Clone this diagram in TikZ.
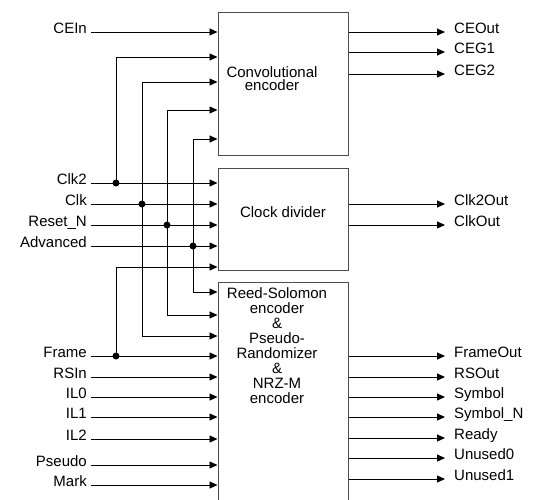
\documentclass[tikz,border=0pt]{standalone}
\usepackage{fontspec}
\setmainfont{Liberation Sans}
\usetikzlibrary{arrows.meta}
\begin{document}
\begin{tikzpicture}[x=1pt,y=-1pt,
  blk/.style={draw=black!70, line width=1pt, minimum width=130pt, inner sep=0pt},
  wire/.style={line width=0.9pt, black},
  arr/.style={wire, -{Triangle[length=8pt,width=7pt]}},
  jdot/.style={circle, fill=black, inner sep=0pt, minimum size=7pt},
  lin/.style={anchor=base east, inner sep=0pt, font=\fontsize{15}{16}\selectfont},
  lout/.style={anchor=base west, inner sep=0pt, font=\fontsize{15}{16}\selectfont},
  btxt/.style={align=center, inner sep=0pt}
]
\useasboundingbox (0,0) rectangle (534,499);
\clip (0,0) rectangle (534,499);

% blocks
\node[blk, minimum height=143pt] (conv) at (283,83.5) {};
\node[blk, minimum height=102pt] (clkd) at (283,219) {};
\node[blk, minimum height=238pt] (rs) at (283,401) {};

\node[btxt, anchor=north, font=\fontsize{15}{13}\selectfont] (convt) at (272,66.5) {Convolutional\\encoder};
\node[btxt, anchor=base, font=\fontsize{15}{16}\selectfont] (clkt) at (283,217) {Clock divider};
\node[btxt, anchor=north, font=\fontsize{15}{15}\selectfont] (rst) at (277,287.5) {Reed-Solomon\\encoder\\\&\\Pseudo-\\Randomizer\\\&\\NRZ-M\\encoder};

% plain inputs
\foreach \nm/\txt/\y/\bx in {cein/CEIn/32/conv, clktwo/Clk2/183/clkd, clk/Clk/204/clkd, rstn/Reset\_N/225/clkd, adv/Advanced/246/clkd,
  frame/Frame/356/rs, rsin/RSIn/377/rs, ilz/IL0/397/rs, ilo/IL1/417/rs, ilt/IL2/439/rs, pse/Pseudo/465/rs, mark/Mark/485/rs}{
  \node[lin] (l\nm) at (87,\y+1.5) {\txt};
  \coordinate (s\nm) at (91,\y);
  \draw[arr] (s\nm) -- (s\nm -| \bx.west);
}

% junctions
\node[jdot] (jclktwo) at (116,183) {};
\node[jdot] (jclk) at (142,204) {};
\node[jdot] (jrstn) at (167,225) {};
\node[jdot] (jadv) at (193,246) {};
\node[jdot] (jframe) at (116,356) {};

% bends
\coordinate (cA) at (116,57);
\coordinate (cB) at (142,82);
\coordinate (cC) at (167,110);
\coordinate (cD) at (193,139);
\coordinate (fA) at (116,267);
\coordinate (rA) at (193,292);
\coordinate (rB) at (167,315);
\coordinate (rC) at (142,336);

\draw[arr] (jclktwo.center) -- (cA) -- (cA -| conv.west);
\draw[arr] (rC) -- (cB) -- (cB -| conv.west);
\draw[arr] (rB) -- (cC) -- (cC -| conv.west);
\draw[arr] (rA) -- (cD) -- (cD -| conv.west);
\draw[arr] (jframe.center) -- (fA) -- (fA -| clkd.west);
\draw[arr] (rA) -- (rA -| rs.west);
\draw[arr] (rB) -- (rB -| rs.west);
\draw[arr] (rC) -- (rC -| rs.west);

% outputs
\foreach \nm/\txt/\y/\bx in {ceout/CEOut/32/conv, ceg1/CEG1/52/conv, ceg2/CEG2/74/conv,
  clktwoout/Clk2Out/204/clkd, clkout/ClkOut/225/clkd,
  frameout/FrameOut/356/rs, rsout/RSOut/377/rs, sym/Symbol/397/rs, symn/Symbol\_N/417/rs,
  ready/Ready/438/rs, unz/Unused0/458/rs, uno/Unused1/479/rs}{
  \coordinate (e\nm) at (445,\y);
  \node[lout] (o\nm) at (454,\y+1.5) {\txt};
  \draw[arr] (e\nm -| \bx.east) -- (e\nm);
}
\end{tikzpicture}
\end{document}
